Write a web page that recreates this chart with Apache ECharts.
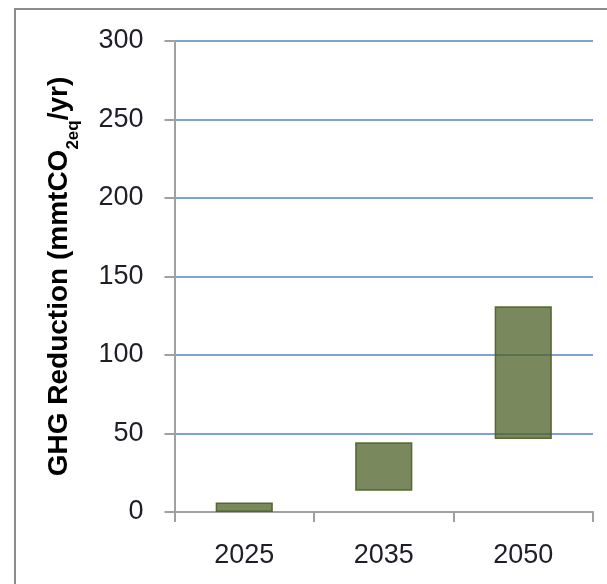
<!DOCTYPE html>
<html>
<head>
<meta charset="utf-8">
<script src="https://cdn.jsdelivr.net/npm/echarts@6/dist/echarts.min.js"></script>
<style>
html,body{margin:0;padding:0;background:#fff;}
#c{width:607px;height:584px;}
</style>
</head>
<body>
<div id="c"></div>
<script>
var categories = ['2025', '2035', '2050'];
var lowValues = [0, 13.5, 46.5];
var highValues = [6, 44.5, 131];
var yTicks = [0, 50, 100, 150, 200, 250, 300];

var rangeValues = highValues.map(function (h, i) { return h - lowValues[i]; });

var chart = echarts.init(document.getElementById('c'));
var font = '"Liberation Sans", Arial, sans-serif';
chart.setOption({
  animation: false,
  graphic: [{
    type: 'rect',
    shape: { x: 15, y: 9, width: 700, height: 700 },
    style: { fill: 'none', stroke: '#8c8c8c', lineWidth: 2 },
    silent: true
  }],
  grid: { left: 174.5, right: 14, top: 41, bottom: 72 },
  xAxis: {
    type: 'category',
    data: categories,
    boundaryGap: true,
    axisLine: { lineStyle: { color: '#a0a0a0', width: 2 } },
    axisTick: { show: true, length: 10, lineStyle: { color: '#a0a0a0', width: 2 } },
    axisLabel: { color: '#1e1e28', fontSize: 27, fontFamily: font, margin: 30 }
  },
  yAxis: {
    type: 'value',
    min: yTicks[0],
    max: yTicks[yTicks.length - 1],
    interval: 50,
    axisLine: { show: true, lineStyle: { color: '#a0a0a0', width: 2 } },
    axisTick: { show: true, length: 10, lineStyle: { color: '#a0a0a0', width: 2 } },
    axisLabel: { color: '#1e1e28', fontSize: 27, fontFamily: font, margin: 31 },
    splitLine: { show: true, lineStyle: { color: '#7ea3d2', width: 2 } },
    name: '{a|GHG Reduction (mmtCO}{s|2eq}{a|/yr)}',
    nameLocation: 'middle',
    nameRotate: 90,
    nameGap: 101,
    nameTextStyle: {
      rich: {
        a: { fontSize: 28, fontWeight: 'bold', fontFamily: font, color: '#000', verticalAlign: 'bottom', lineHeight: 32 },
        s: { fontSize: 17, fontWeight: 'bold', fontFamily: font, color: '#000', verticalAlign: 'bottom', lineHeight: 32, padding: [0, 0, -8, 0] }
      }
    }
  },
  series: [{
    type: 'bar',
    stack: 'r',
    data: lowValues,
    barWidth: '41%',
    itemStyle: { color: 'transparent' },
    silent: true
  }, {
    type: 'bar',
    stack: 'r',
    data: rangeValues,
    barWidth: '41%',
    itemStyle: { color: 'rgba(76,96,36,0.74)', borderColor: 'rgba(75,95,35,0.9)', borderWidth: 1.5 }
  }]
});
</script>
</body>
</html>
